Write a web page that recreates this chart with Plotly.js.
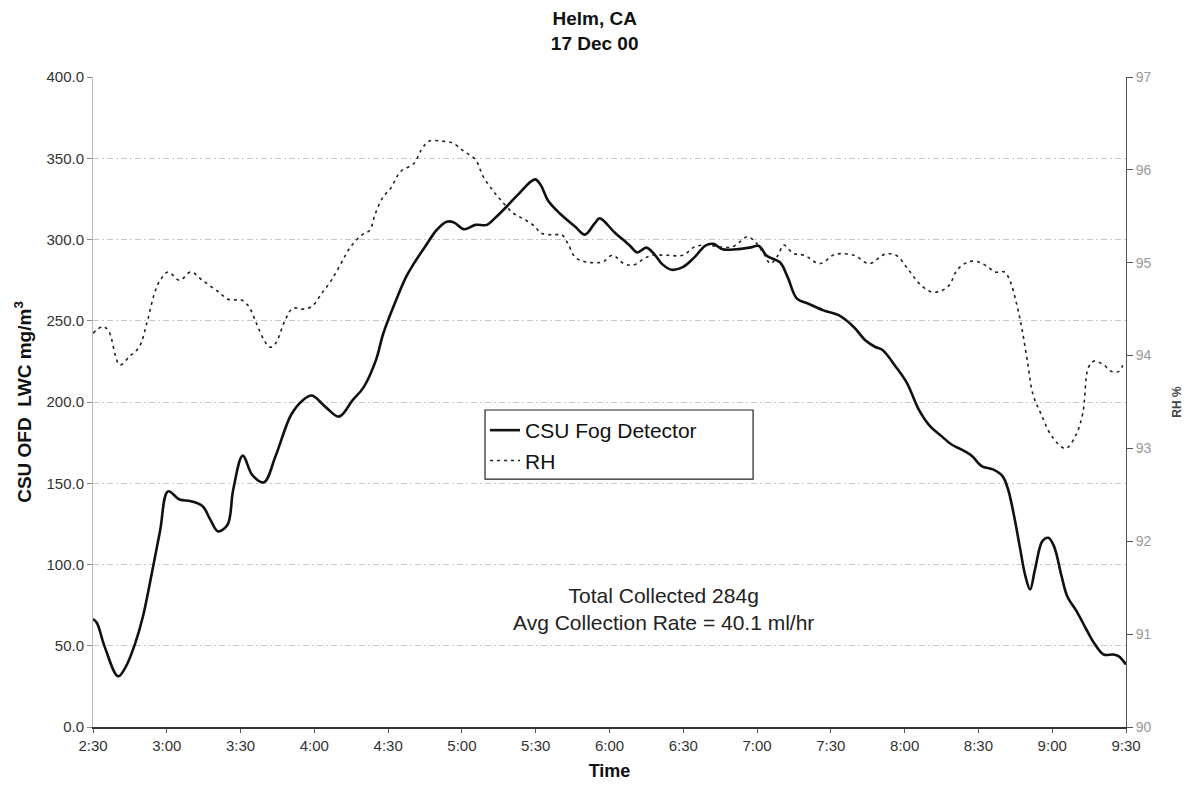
<!DOCTYPE html>
<html>
<head>
<meta charset="utf-8">
<script src="https://cdn.plot.ly/plotly-3.0.1.min.js"></script>
<style>html,body{margin:0;padding:0;background:#fff;}#chart{width:1187px;height:793px;}</style>
</head>
<body>
<div id="chart"></div>
<script>
// Minutes after 2:30
var lwcTime = [0,1.6,4.7,10.2,13.3,17.2,20.3,24.2,27.3,30.5,35.2,39.8,44.5,47.7,50.8,54.7,57,60.9,64.8,69.5,74.2,80.5,85.2,89,94.5,100,105.5,110,115,118,122.7,127.3,130.5,135,139.8,143.8,146.9,150.8,155.5,160.2,163.3,168,172.7,179.7,182,185,189.8,196,200,204,206,212,218.2,221.3,225,228.2,231.3,235.2,239.8,244.5,249,252.2,256,261.5,266.9,270.8,273.9,279.3,282.4,286.2,290.9,297,303.2,309.4,314,317.9,321,326.4,331,335.7,340.4,345,348.9,354.3,357.4,361.3,365.9,369.8,372.1,374.5,376.8,379.1,381,383,386,388.4,390.7,393.8,396.1,400,403.9,407,410.9,414.8,417.1,420];
var lwcValues = [66.5,64,49.6,31.2,37,51.7,68,96.8,121,145,140,139,136,127.6,120.4,124.5,146,167,155,150.6,166.6,192,201,204,197,191,201,209,225.6,242,260.7,277,285.3,295.6,306,311,310.4,306.3,309,309,313,320,327.5,337,333.6,324,316,308,303,310,313,304.5,296.3,292,295,291,285,281.4,283,289,296.3,297.3,294,294,295,296,290,286,277,263.6,260.5,256.4,253.4,246,238,234,232,221.7,211.5,195.5,185,179,174,169.8,166.7,160.6,158.5,154.4,146,129.8,111,92.8,84.6,97,114.4,116.4,111.3,92.8,80.5,71,60,51.7,44.6,44.6,43.5,38.4];

var rhTime = [0,3.9,6.25,10.9,14.8,18.75,21.9,25,27.3,30.5,35.2,39.8,44.5,50.8,55.5,60.2,63.3,66.4,69.5,71.9,74.2,78.1,81.25,85.2,89,93,96.9,100.8,104.7,109.4,112.5,114.8,118,121,125,130.5,133.6,136.7,141.4,146.1,150.8,155.5,158.6,162.5,165.6,171.1,175.8,179.7,182,186.7,190.6,193,196,200,203.9,207.4,211.2,215.9,219.7,224.4,227.5,233.7,239.8,244.5,249.1,255.3,259.9,263,266.1,269.2,273.1,275.4,278.5,280.8,284.7,289.3,295.5,301.7,309.4,315.6,321.8,326.5,331.1,335.8,340.4,344.3,348.2,351.3,355.9,359.8,363.6,366.7,370.6,372.9,375.3,377.6,379.9,382.2,385.4,390,395.4,399.3,402.4,404.7,407,410.9,414,417.1,419.3];
var rhValues = [94.24,94.31,94.27,93.9,93.99,94.09,94.35,94.67,94.81,94.9,94.81,94.9,94.81,94.69,94.6,94.6,94.53,94.35,94.17,94.09,94.13,94.38,94.51,94.5,94.53,94.67,94.81,94.99,95.17,95.3,95.35,95.53,95.71,95.8,95.98,96.07,96.22,96.31,96.31,96.29,96.2,96.11,95.93,95.78,95.68,95.53,95.46,95.39,95.32,95.3,95.3,95.21,95.06,95.01,95.0,95.01,95.08,94.99,94.975,95.05,95.08,95.08,95.08,95.17,95.19,95.17,95.17,95.225,95.28,95.225,95.08,94.99,95.08,95.19,95.1,95.08,94.99,95.09,95.08,94.99,95.09,95.08,94.94,94.78,94.69,94.69,94.76,94.92,95.01,95.01,94.96,94.9,94.9,94.8,94.58,94.3,93.94,93.58,93.375,93.125,93.0,93.125,93.375,93.87,93.94,93.9,93.83,93.83,93.94];

var tickMinutes = [0,30,60,90,120,150,180,210,240,270,300,330,360,390,420];
var tickLabels = ['2:30','3:00','3:30','4:00','4:30','5:00','5:30','6:00','6:30','7:00','7:30','8:00','8:30','9:00','9:30'];

var FONT = 'Liberation Sans, Arial, sans-serif';

var traces = [
  {x: lwcTime, y: lwcValues, name: 'CSU Fog Detector', type: 'scatter', mode: 'lines',
   line: {color: '#111', width: 2.6, shape: 'spline', smoothing: 1}},
  {x: rhTime, y: rhValues, name: 'RH', type: 'scatter', mode: 'lines', yaxis: 'y2',
   line: {color: '#222', width: 1.6, dash: '3px,4px', shape: 'spline', smoothing: 1}}
];

// legend frame, in paper fractions of the plot area
var legendFrame = {type: 'rect', xref: 'paper', yref: 'paper', x0: 0.3795, x1: 0.639, y0: 0.3815, y1: 0.4877,
                   line: {color: '#222', width: 1.2}, fillcolor: '#fff', layer: 'below'};

var layout = {
  width: 1187, height: 793,
  paper_bgcolor: '#fff', plot_bgcolor: '#fff',
  margin: {l: 93, r: 61, t: 77, b: 66},
  font: {family: FONT, color: '#222', size: 15},
  showlegend: true,
  title: {text: '<b>Helm, CA<br>17 Dec 00</b>', x: 0.501, xref: 'container', xanchor: 'center', y: 0.968, yanchor: 'middle', yref: 'container',
          font: {family: FONT, size: 19, color: '#111'}},
  xaxis: {range: [0, 420], tickvals: tickMinutes, ticktext: tickLabels, showgrid: false, zeroline: false,
          showline: true, linecolor: '#333', linewidth: 1.5, ticks: 'outside', ticklen: 4, tickcolor: '#555',
          tickfont: {size: 15, color: '#333'},
          title: {text: '<b>Time</b>', font: {size: 18, color: '#111'}, standoff: 12}},
  yaxis: {range: [0, 400], dtick: 50, tickformat: '.1f', showgrid: true, gridcolor: '#c8c8c8', griddash: '6px,3px,2px,3px', gridwidth: 1,
          zeroline: false, showline: true, linecolor: '#bbb', linewidth: 1, ticks: 'outside', ticklen: 5, tickcolor: '#888',
          tickfont: {size: 15, color: '#333'},
          title: {text: '<b>CSU OFD  LWC mg/m<sup>3</sup></b>', font: {size: 19, color: '#111'}, standoff: 9}},
  yaxis2: {range: [90, 97], dtick: 1, overlaying: 'y', side: 'right', showgrid: false, zeroline: false,
           showline: true, linecolor: '#555', linewidth: 1, ticks: 'outside', ticklen: 6, tickcolor: '#555',
           tickfont: {size: 14, color: '#999'},
           title: {text: '<b>RH %</b>', font: {size: 12, color: '#444'}, standoff: 22}},
  legend: {x: 0.3795, y: 0.4877, xanchor: 'left', yanchor: 'top', bgcolor: 'rgba(0,0,0,0)', borderwidth: 0,
           font: {size: 21, color: '#111'}, tracegroupgap: 0},
  shapes: [legendFrame],
  annotations: [
    {text: 'Total Collected 284g<br>Avg Collection Rate = 40.1 ml/hr', xref: 'paper', yref: 'paper', x: 0.552, y: 0.181,
     xanchor: 'center', yanchor: 'middle', showarrow: false, font: {size: 21, color: '#222'}}
  ]
};

Plotly.newPlot('chart', traces, layout, {displayModeBar: false, staticPlot: true});
</script>
</body>
</html>
